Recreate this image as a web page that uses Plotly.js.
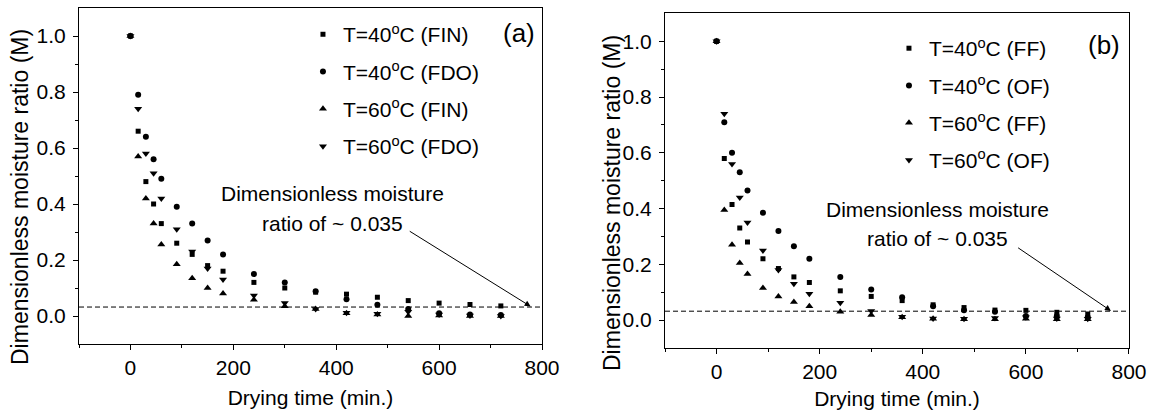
<!DOCTYPE html>
<html><head><meta charset="utf-8">
<script src="https://cdn.plot.ly/plotly-3.0.1.min.js"></script>
<style>html,body{margin:0;padding:0;background:#fff}#chart{width:1152px;height:412px}</style>
</head><body><div id="chart"></div>
<script>
// Drying time (min.)
const time = [0,15,30,45,60,90,120,150,180,240,300,360,420,480,540,600,660,720];

// Panel (a)
const a_fin40 = [1.0,0.66,0.48,0.40,0.33,0.26,0.22,0.18,0.16,0.12,0.10,0.085,0.078,0.067,0.055,0.046,0.041,0.036];
const a_fdo40 = [1.0,0.79,0.64,0.56,0.49,0.39,0.33,0.27,0.22,0.15,0.12,0.088,0.06,0.04,0.025,0.01,0.005,0.004];
const a_fin60 = [1.0,0.57,0.42,0.33,0.255,0.185,0.135,0.10,0.08,0.058,0.035,0.025,0.01,0.005,0.0,0.002,0.0,0.0];
const a_fdo60 = [1.0,0.74,0.58,0.51,0.42,0.31,0.23,0.17,0.13,0.073,0.046,0.025,0.012,0.008,0.015,0.005,0.002,0.0];
const a_names = ['T=40<sup>o</sup>C (FIN)','T=40<sup>o</sup>C (FDO)','T=60<sup>o</sup>C (FIN)','T=60<sup>o</sup>C (FDO)'];

// Panel (b)
const b_ff40 = [1.0,0.58,0.415,0.33,0.28,0.22,0.185,0.155,0.135,0.105,0.085,0.07,0.055,0.045,0.036,0.035,0.028,0.022];
const b_of40 = [1.0,0.71,0.60,0.53,0.465,0.385,0.32,0.265,0.22,0.155,0.11,0.082,0.05,0.035,0.03,0.015,0.015,0.01];
const b_ff60 = [1.0,0.395,0.27,0.205,0.165,0.115,0.085,0.065,0.05,0.03,0.018,0.01,0.005,0.003,0.003,0.005,0.003,0.003];
const b_of60 = [1.0,0.74,0.56,0.44,0.35,0.25,0.18,0.13,0.095,0.062,0.033,0.012,0.006,0.005,0.008,0.01,0.006,0.005];
const b_names = ['T=40<sup>o</sup>C (FF)','T=40<sup>o</sup>C (OF)','T=60<sup>o</sup>C (FF)','T=60<sup>o</sup>C (OF)'];

const symbols = ['square','circle','triangle-up','triangle-down'];
const sizes = [5,6,7,7];
const THRESHOLD = 0.032;
const xTicks = [0,200,400,600,800];
const xMinor = [-100,100,300,500,700];
const yTicks = [0,0.2,0.4,0.6,0.8,1.0];
const yTickText = ['0.0','0.2','0.4','0.6','0.8','1.0'];
const yMinor = [0.1,0.3,0.5,0.7,0.9];

const FONT = 'Liberation Sans, Arial, sans-serif';
const FS = 21;

const traces = [];
[a_fin40,a_fdo40,a_fin60,a_fdo60].forEach((ys,i)=>{
  traces.push({x:time,y:ys,type:'scatter',mode:'markers',name:a_names[i],xaxis:'x',yaxis:'y',
    legend:'legend',legendgroup:'a'+i,
    marker:{symbol:symbols[i],size:sizes[i],color:'#000'}});
});
[b_ff40,b_of40,b_ff60,b_of60].forEach((ys,i)=>{
  traces.push({x:time,y:ys,type:'scatter',mode:'markers',name:b_names[i],xaxis:'x2',yaxis:'y2',
    legend:'legend2',legendgroup:'b'+i,
    marker:{symbol:symbols[i],size:sizes[i],color:'#000'}});
});

function xax(domain, anchor, standoff){
  return {domain:domain, anchor:anchor, range:[-100,800], tickmode:'array', tickvals:xTicks,
    ticks:'outside', ticklen:5, tickwidth:1, tickcolor:'#000',
    showline:true, linecolor:'#000', linewidth:1, mirror:true, showgrid:false, zeroline:false,
    minor:{tickmode:'array', tickvals:xMinor, ticks:'outside', ticklen:3, tickwidth:1, tickcolor:'#000', showgrid:false},
    tickfont:{family:FONT,size:FS,color:'#000'},
    title:{text:'Drying time (min.)', font:{family:FONT,size:FS,color:'#000'}, standoff:standoff},
    automargin:false};
}
function yax(domain, anchor){
  return {domain:domain, anchor:anchor, range:[-0.1,1.1], tickmode:'array', tickvals:yTicks, ticktext:yTickText,
    ticks:'outside', ticklen:5, tickwidth:1, tickcolor:'#000',
    showline:true, linecolor:'#000', linewidth:1, mirror:true, showgrid:false, zeroline:false,
    minor:{tickmode:'array', tickvals:yMinor, ticks:'outside', ticklen:3, tickwidth:1, tickcolor:'#000', showgrid:false},
    tickfont:{family:FONT,size:FS,color:'#000'}, ticklabelstandoff:3, automargin:false};
}

const txt = {family:FONT,size:FS,color:'#000'};
const ytitle = {family:FONT,size:23,color:'#000'};
const panelFont = {family:FONT,size:26,color:'#000'};
const layout = {
  width:1152, height:412, paper_bgcolor:'#fff', plot_bgcolor:'#fff',
  margin:{l:79,r:23,t:8,b:64},
  font:{family:FONT,size:FS,color:'#000'},
  xaxis: xax([0,0.44095],'y',12),
  yaxis: yax([0.01176,1],'x'),
  xaxis2: xax([0.5581,1],'y2',9),
  yaxis2: yax([0,0.98412],'x2'),
  legend:{x:0.2133,y:0.982,xanchor:'left',yanchor:'top',bgcolor:'rgba(0,0,0,0)',borderwidth:0,
    traceorder:'grouped',tracegroupgap:7,font:txt},
  legend2:{x:0.7714,y:0.941,xanchor:'left',yanchor:'top',bgcolor:'rgba(0,0,0,0)',borderwidth:0,
    traceorder:'grouped',tracegroupgap:7,font:txt},
  shapes:[
    {type:'line',xref:'x domain',yref:'y',x0:0,x1:1,y0:THRESHOLD,y1:THRESHOLD,line:{color:'#000',width:1,dash:'5px,3px'}},
    {type:'line',xref:'x2 domain',yref:'y2',x0:0,x1:1,y0:THRESHOLD,y1:THRESHOLD,line:{color:'#000',width:1,dash:'5px,3px'}}
  ],
  annotations:[
    {xref:'paper',yref:'paper',x:(20-79)/1050,y:(348-197)/340,text:'Dimensionless moisture ratio (M)',textangle:-90,showarrow:false,font:ytitle,xanchor:'center',yanchor:'middle'},
    {xref:'paper',yref:'paper',x:(612-79)/1050,y:(348-203)/340,text:'Dimensionless moisture ratio (M)',textangle:-90,showarrow:false,font:ytitle,xanchor:'center',yanchor:'middle'},
    {xref:'paper',yref:'paper',x:(519-79)/1050,y:(348-33)/340,text:'(a)',showarrow:false,font:panelFont,xanchor:'center',yanchor:'middle'},
    {xref:'paper',yref:'paper',x:(1104-79)/1050,y:(348-45)/340,text:'(b)',showarrow:false,font:panelFont,xanchor:'center',yanchor:'middle'},
    {xref:'x',yref:'y',x:392,y:0.438,text:'Dimensionless moisture',showarrow:false,font:txt,xanchor:'center',yanchor:'middle'},
    {xref:'x',yref:'y',x:392,y:0.331,text:'ratio of ~ 0.035',showarrow:false,font:txt,xanchor:'center',yanchor:'middle'},
    {xref:'x2',yref:'y2',x:429,y:0.398,text:'Dimensionless moisture',showarrow:false,font:txt,xanchor:'center',yanchor:'middle'},
    {xref:'x2',yref:'y2',x:429,y:0.293,text:'ratio of ~ 0.035',showarrow:false,font:txt,xanchor:'center',yanchor:'middle'},
    {xref:'x',yref:'y',axref:'x',ayref:'y',x:778,y:0.034,ax:540,ay:0.306,text:'',showarrow:true,arrowhead:2,arrowsize:1.2,arrowwidth:1,arrowcolor:'#000',standoff:0,startstandoff:0},
    {xref:'x2',yref:'y2',axref:'x2',ayref:'y2',x:765,y:0.033,ax:582,ay:0.263,text:'',showarrow:true,arrowhead:2,arrowsize:1.2,arrowwidth:1,arrowcolor:'#000',standoff:0,startstandoff:0}
  ]
};
Plotly.newPlot('chart', traces, layout, {staticPlot:true, displayModeBar:false});
</script></body></html>
